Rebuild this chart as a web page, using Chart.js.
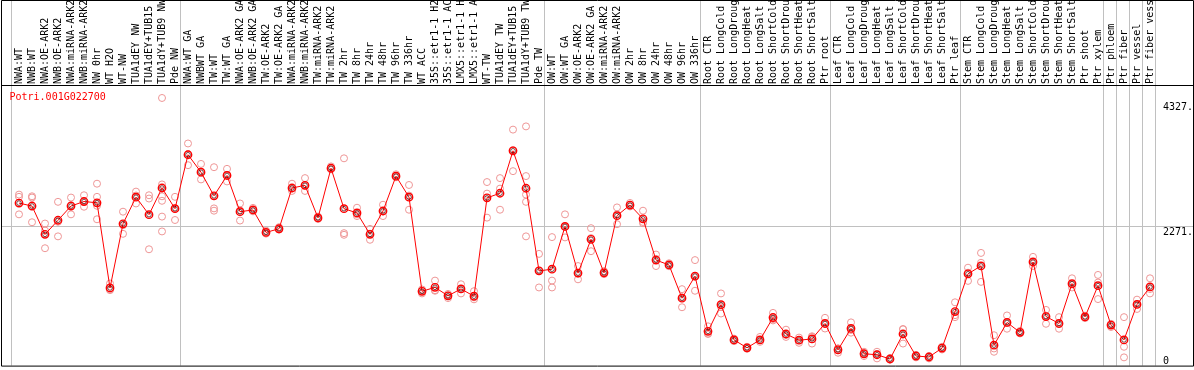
<!DOCTYPE html>
<html>
<head>
<meta charset="utf-8">
<script src="https://cdn.jsdelivr.net/npm/chart.js@4.4.1/dist/chart.umd.min.js"></script>
<style>
  html, body { margin: 0; padding: 0; background: #fff; }
</style>
</head>
<body>
<canvas id="c" width="1194" height="370"></canvas>
<script>
// gene shown in the panel
const geneName = 'Potri.001G022700';

// sample names (cut to 14 chars like the source)
const categories = [
  'NWA:WT', 'NWB:WT', 'NWA:OE-ARK2', 'NWB:OE-ARK2', 'NWA:miRNA-ARK2', 'NWB:miRNA-ARK2', 'NW 0hr', 'WT H2O', 'WT-NW',
  'TUA1dEY NW', 'TUA1dEY+TUB15', 'TUA1dY+TUB9 NW', 'Pde NW',
  'NWA:WT GA', 'NWBWT GA', 'TW:WT', 'TW:WT GA', 'NWA:OE-ARK2 GA', 'NWB:OE-ARK2 GA', 'TW:OE-ARK2', 'TW:OE-ARK2 GA',
  'NWA:miRNA-ARK2', 'NWB:miRNA-ARK2', 'TW:miRNA-ARK2', 'TW:miRNA-ARK2', 'TW 2hr', 'TW 8hr', 'TW 24hr', 'TW 48hr',
  'TW 96hr', 'TW 336hr', 'WT ACC', '35S::etr1-1 H2', '35S::etr1-1 AC', 'LMX5::etr1-1 H', 'LMX5::etr1-1 A', 'WT-TW',
  'TUA1dEY TW', 'TUA1dEY+TUB15', 'TUA1dY+TUB9 TW', 'Pde TW',
  'OW:WT', 'OW:WT GA', 'OW:OE-ARK2', 'OW:OE-ARK2 GA', 'OW:miRNA-ARK2', 'OW:miRNA-ARK2', 'OW 2hr', 'OW 8hr',
  'OW 24hr', 'OW 48hr', 'OW 96hr', 'OW 336hr',
  'Root CTR', 'Root LongCold', 'Root LongDroug', 'Root LongHeat', 'Root LongSalt', 'Root ShortCold', 'Root ShortDrou',
  'Root ShortHeat', 'Root ShortSalt', 'Ptr root',
  'Leaf CTR', 'Leaf LongCold', 'Leaf LongDroug', 'Leaf LongHeat', 'Leaf LongSalt', 'Leaf ShortCold', 'Leaf ShortDrou',
  'Leaf ShortHeat', 'Leaf ShortSalt', 'Ptr leaf',
  'Stem CTR', 'Stem LongCold', 'Stem LongDroug', 'Stem LongHeat', 'Stem LongSalt', 'Stem ShortCold', 'Stem ShortDrou',
  'Stem ShortHeat', 'Stem ShortSalt', 'Ptr shoot', 'Ptr xylem', 'Ptr phloem', 'Ptr fiber', 'Ptr vessel', 'Ptr fiber vess'
];

// mean expression per sample
const meanValues = [
  2655, 2607, 2141, 2373, 2607, 2681, 2660, 1260, 2315, 2753,
  2465, 2903, 2563, 3450, 3163, 2774, 3109, 2514, 2542, 2173,
  2233, 2903, 2947, 2412, 3228, 2563, 2493, 2141, 2525, 3098,
  2753, 1205, 1270, 1131, 1244, 1124, 2741, 2817, 3515, 2899,
  1541, 1568, 2271, 1504, 2060, 1508, 2449, 2623, 2396, 1719,
  1638, 1092, 1455, 547, 985, 406, 276, 406, 774, 503,
  401, 422, 676, 243, 595, 178, 162, 92, 503, 141,
  125, 271, 871, 1492, 1622, 320, 693, 530, 1687, 790,
  676, 1330, 783, 1298, 649, 406, 989, 1277
];

// replicates
const rep1 = [
  2795, 2767, 2319, 2676, 2746, 2784, 2974, 1333, 2514, 2844,
  2784, 4383, 2758, 3635, 3299, 3245, 3218, 2649, 2576, 2202,
  2259, 2974, 3066, 2433, 3258, 3391, 2579, 2231, 2628, 3128,
  2953, 1235, 1381, 1162, 1321, 1207, 3001, 3066, 3863, 3916,
  1820, 2096, 2470, 1620, 2243, 1536, 2584, 2657, 2530, 1809,
  1666, 1240, 1718, 629, 1170, 427, 293, 455, 850, 574,
  444, 466, 769, 265, 694, 211, 211, 106, 580, 158,
  141, 293, 1024, 1593, 1836, 483, 808, 553, 1771, 899,
  780, 1419, 804, 1474, 671, 780, 1068, 1419
];
const rep2 = [
  2758, 2746, 2204, 2348, 2616, 2681, 2758, 1235, 2291, 2779,
  2730, 2962, 2568, 3461, 3169, 2568, 3120, 2535, 2546, 2178,
  2238, 2893, 2941, 2421, 3234, 2161, 2470, 2152, 2519, 3104,
  2779, 1219, 1224, 1138, 1246, 1105, 2811, 2893, 3526, 3099,
  1544, 1381, 2264, 1495, 2080, 1511, 2470, 2628, 2345, 1739,
  1641, 1105, 1446, 509, 947, 406, 276, 406, 748, 488,
  401, 455, 671, 267, 569, 184, 171, 93, 585, 146,
  130, 271, 813, 1511, 1674, 265, 683, 531, 1682, 804,
  666, 1316, 785, 1349, 650, 293, 991, 1243
];
const rep3 = [
  2470, 2340, 1913, 2108, 2470, 2595, 2649, 1224, 2150, 2649,
  1896, 2767, 2377, 3278, 3044, 2530, 3011, 2368, 2519, 2153,
  2218, 2855, 2855, 2394, 3209, 2134, 2442, 2052, 2442, 3079,
  2546, 1170, 1214, 1094, 1170, 1073, 2416, 2546, 3180, 2795,
  1268, 1268, 2091, 1402, 1864, 1487, 2308, 2600, 2324, 1620,
  1617, 943, 1214, 504, 840, 385, 260, 374, 726, 455,
  358, 346, 593, 195, 525, 141, 102, 81, 346, 119,
  102, 249, 780, 1376, 1360, 211, 590, 512, 1620, 671,
  590, 1268, 764, 1077, 618, 119, 915, 1170
];
// samples with more than three replicates
const extraLabels = ['NW 0hr', 'NW 0hr', 'TUA1dY+TUB9 NW', 'TUA1dY+TUB9 NW', 'TUA1dY+TUB9 NW', 'TUA1dY+TUB9 TW', 'TUA1dY+TUB9 TW'];
const extraValues = [2611, 2389, 2693, 2433, 2189, 2676, 2108];

// first sample of each block (vertical separators)
const groupStarts = [0, 13, 41, 53, 63, 73, 84, 85, 86, 87, 88];

const yMax = 4580;
const yTicks = [4327, 2271, 0];
const yTickLabels = ['4327.', '2271.', '0'];
const yGridValues = [2271];

const FONT = '10px "DejaVu Sans Mono"';

const framePlugin = {
  id: 'frame',
  beforeDatasetsDraw(chart) {
    const { ctx, chartArea: a, scales: { x, y } } = chart;
    const W = chart.width;
    ctx.save();
    ctx.strokeStyle = '#c0c0c0';
    ctx.lineWidth = 1;
    ctx.beginPath();
    groupStarts.forEach(i => {
      const px = Math.floor(x.getPixelForValue(i) - 8) + 0.5;
      ctx.moveTo(px, 0);
      ctx.lineTo(px, a.bottom + 1);
    });
    yGridValues.forEach(v => {
      const py = Math.round(y.getPixelForValue(v)) + 0.5;
      ctx.moveTo(1, py);
      ctx.lineTo(W - 1, py);
    });
    ctx.stroke();

    ctx.strokeStyle = '#000';
    ctx.beginPath();
    ctx.rect(1.5, 0.5, W - 2, a.bottom + 1);
    ctx.moveTo(1, a.top - 0.5);
    ctx.lineTo(W - 1, a.top - 0.5);
    ctx.stroke();
    ctx.restore();
  },
  afterDraw(chart) {
    const { ctx, chartArea: a, scales: { y } } = chart;
    ctx.save();
    ctx.font = FONT;
    ctx.textBaseline = 'alphabetic';
    ctx.fillStyle = 'red';
    ctx.fillText(geneName, a.left - 3, a.top + 14);

    ctx.beginPath();
    ctx.rect(a.right, a.top, chart.width - 1 - a.right, a.bottom - a.top);
    ctx.clip();
    ctx.fillStyle = '#000';
    yTicks.forEach((v, i) => {
      const base = Math.min(y.getPixelForValue(v) + 9, a.bottom - 1);
      ctx.fillText(yTickLabels[i], a.right + 6.5, base);
    });
    ctx.restore();
  }
};

const repStyle = {
  showLine: false,
  pointRadius: 3.5,
  pointBorderWidth: 1,
  pointBorderColor: 'rgb(238,150,150)',
  pointBackgroundColor: 'rgba(0,0,0,0)',
  order: 2
};

new Chart(document.getElementById('c'), {
  type: 'line',
  data: {
    labels: categories,
    datasets: [
      {
        data: meanValues,
        showLine: false,
        pointRadius: 2.3,
        pointBorderWidth: 1,
        pointBorderColor: 'rgba(70,0,0,0.7)',
        pointBackgroundColor: 'rgba(0,0,0,0)',
        order: 0
      },
      {
        data: meanValues,
        borderColor: 'red',
        borderWidth: 1,
        tension: 0,
        pointRadius: 3.7,
        pointBorderWidth: 1.4,
        pointBorderColor: 'red',
        pointBackgroundColor: 'rgba(0,0,0,0)',
        order: 1
      },
      Object.assign({ data: rep1 }, repStyle),
      Object.assign({ data: rep2 }, repStyle),
      Object.assign({ data: rep3 }, repStyle),
      Object.assign({ data: extraLabels.map((l, i) => ({ x: l, y: extraValues[i] })) }, repStyle)
    ]
  },
  options: {
    responsive: false,
    devicePixelRatio: 1,
    animation: false,
    layout: { padding: { left: 12.5, right: 37.5, top: 0, bottom: 2 } },
    plugins: { legend: { display: false }, tooltip: { enabled: false } },
    scales: {
      x: {
        type: 'category',
        position: 'top',
        offset: true,
        grid: { display: false, drawTicks: false },
        border: { display: false },
        ticks: {
          autoSkip: false,
          minRotation: 90,
          maxRotation: 90,
          padding: 2,
          labelOffset: 12,
          color: '#000',
          font: { family: 'DejaVu Sans Mono', size: 10 }
        },
        afterFit(s) { s.height = 86; }
      },
      y: { display: false, min: 0, max: yMax }
    }
  },
  plugins: [framePlugin]
});
</script>
</body>
</html>
